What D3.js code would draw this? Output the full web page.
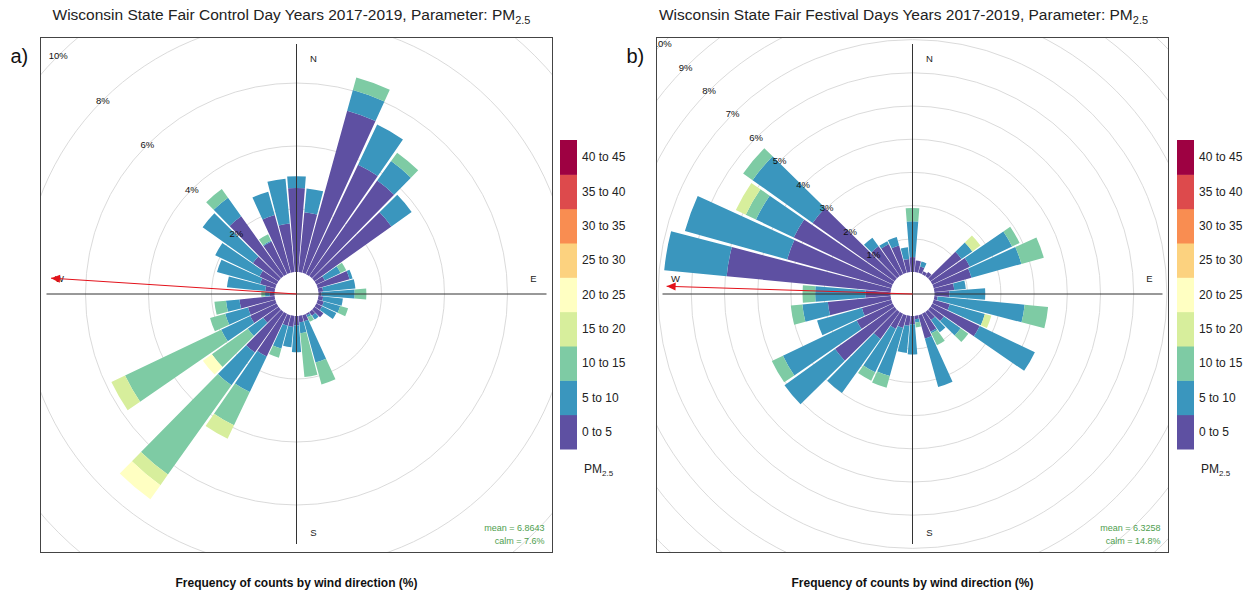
<!DOCTYPE html>
<html>
<head>
<meta charset="utf-8">
<script src="https://cdn.jsdelivr.net/npm/d3@7"></script>
<style>
  body { margin: 0; background: #fff; }
  svg { display: block; font-family: "Liberation Sans", Arial, sans-serif; }
</style>
</head>
<body>
<svg id="chart" width="1254" height="596"></svg>
<script>
// ---- data -------------------------------------------------------------
const directions = d3.range(0, 360, 10);   // wind sectors, degrees from north

const bandLabels = ["0 to 5", "5 to 10", "10 to 15", "15 to 20", "20 to 25",
                    "25 to 30", "30 to 35", "35 to 40", "40 to 45"];
const bandColors = ["#5E50A2", "#3A96BE", "#7ECBA4", "#D7EE9C", "#FFFFC2",
                    "#FCD27F", "#F98D51", "#DD4A4C", "#9E0142"];

// frequency (%) per PM2.5 band for each wind sector, control days
const controlFreq = [
  [2.67, 0.37], [1.91, 0.76], [5.34, 0.68, 0.41], [3.85, 1.41],
  [3.72, 0.76, 0.33], [3.00, 0.79], [0.30, 0.55, 0.20], [1.05, 0.10],
  [0.15, 1.03], [0.10, 1.05, 0.37], [0.15, 0.63], [0.20, 0.54, 0.26],
  [0.20, 0.50], [0.35], [0.15, 0.15], [0.05, 0.07, 0.16],
  [0.20, 1.36, 0.72], [0.20, 0.35, 1.40], [0.30, 0.85], [0.35, 0.65],
  [0.35, 0.75, 0.30], [1.50, 1.25, 1.17, 0.47], [1.58, 1.28, 3.48, 0.41, 0.55],
  [0.60, 0.60, 1.40, 0, 0.35], [0.93, 1.02, 3.38, 0.48], [0.90, 0.75, 0.50],
  [1.12, 0.43, 0.37], [0.15, 0.15, 0.12], [0.30, 1.22], [0.50, 1.42],
  [0.60, 1.56], [1.00, 1.96], [2.33, 0.72, 0.34], [1.15, 0.03, 0.22],
  [1.90, 0.77], [1.55, 1.43]
];

// frequency (%) per PM2.5 band for each wind sector, festival days
const festivalFreq = [
  [0.45, 1.08, 0.40], [0.35], [0.20, 0.15], [0.10],
  [0.15], [1.15, 0.40, 0, 0.30], [1.25, 1.41, 0.25], [1.18, 1.56, 0.70],
  [0.60, 0.35], [0.45, 1.08], [0.10, 2.63, 0.71], [0.50, 1.10, 0, 0.20],
  [1.58, 1.84], [0.50, 0.62, 0.28], [0.30, 0.45], [0.60, 0.05, 0.40],
  [0.73, 1.51], [0.10, 0.10, 0.15], [0.25, 0.91], [0.30, 0.82],
  [0.40, 1.50, 0.37], [0.50, 1.45, 0.28], [1.00, 2.00], [2.20, 1.87],
  [1.20, 2.46, 0.37], [0.92, 1.40], [1.90, 0.77, 0.35], [0.76, 1.51, 0.38],
  [4.96, 1.89], [3.25, 3.20], [3.30, 1.26, 0.34, 0.33], [3.03, 2.22, 0.35],
  [1.10, 0.32], [1.00, 0.10], [0.85, 0.27], [0.40, 0.35]
];

const controlTicks = [2, 4, 6, 8, 10];
const festivalTicks = [1, 2, 3, 4, 5, 6, 7, 8, 9, 10];

const titles = ["Wisconsin State Fair Control Day Years 2017-2019, Parameter: PM",
                "Wisconsin State Fair Festival Days Years 2017-2019, Parameter: PM"];
const panelTags = ["a)", "b)"];
const meanValues = ["6.8643", "6.3258"];
const calmValues = ["7.6%", "14.8%"];
const meanDirection = [273.7, 271.8];   // resultant wind direction, degrees
const compass = ["N", "E", "S", "W"];

// ---- layout -----------------------------------------------------------
const panels = [
  { freq: controlFreq,  ticks: controlTicks,  x0: 40.5,  pxPerPct: 31.5, legendX: 560,  titleDx: -5 },
  { freq: festivalFreq, ticks: festivalTicks, x0: 656.5, pxPerPct: 33.2, legendX: 1177, titleDx: -9 }
];
const frameY = 37.5, frameW = 512, frameH = 515;
const calmR = 22, halfWidth = 4.55 * Math.PI / 180;

const svg = d3.select("#chart");
const rad = d => d * Math.PI / 180;

panels.forEach((p, i) => {
  const cx = p.x0 + frameW / 2, cy = frameY + frameH / 2 - 1;
  const r = d3.scaleLinear().domain([0, 10]).range([calmR, calmR + 10 * p.pxPerPct]);

  // title with subscript
  const t = svg.append("text")
    .attr("x", cx + p.titleDx).attr("y", 20)
    .attr("text-anchor", "middle")
    .attr("font-size", 15.5).attr("fill", "#222");
  t.append("tspan").text(titles[i]);
  t.append("tspan").attr("font-size", 11).attr("dy", 4).text("2.5");

  svg.append("text").attr("x", p.x0 - 30).attr("y", 63)
    .attr("font-size", 20).attr("fill", "#111").text(panelTags[i]);

  const clipId = "clip" + i;
  svg.append("clipPath").attr("id", clipId)
    .append("rect").attr("x", p.x0).attr("y", frameY).attr("width", frameW).attr("height", frameH);

  const g = svg.append("g").attr("clip-path", `url(#${clipId})`);
  const c = g.append("g").attr("transform", `translate(${cx},${cy})`);

  // grid rings
  c.selectAll("circle.ring").data(p.ticks).join("circle")
    .attr("class", "ring").attr("r", d => r(d))
    .attr("fill", "none").attr("stroke", "#d6d6d6").attr("stroke-width", 0.9);

  // stacked sector bars
  const arc = d3.arc();
  directions.forEach((dir, k) => {
    const vals = p.freq[k];
    let cum = 0;
    vals.forEach((v, b) => {
      if (v <= 0) return;
      const inner = r(cum); cum += v; const outer = r(cum);
      c.append("path")
        .attr("d", arc({ innerRadius: inner, outerRadius: outer,
                         startAngle: rad(dir) - halfWidth, endAngle: rad(dir) + halfWidth }))
        .attr("fill", bandColors[b]);
    });
  });

  // ring labels along the north-west diagonal
  c.selectAll("text.tick").data(p.ticks).join("text")
    .attr("class", "tick")
    .attr("x", d => -r(d) * Math.SQRT1_2)
    .attr("y", d => -r(d) * Math.SQRT1_2)
    .attr("dy", "0.35em").attr("text-anchor", "middle")
    .attr("font-size", 9.5).attr("fill", "#111")
    .text(d => d + "%");

  // compass axes
  c.append("line").attr("x1", 0).attr("x2", 0).attr("y1", -250).attr("y2", 250)
    .attr("stroke", "#333").attr("stroke-width", 1);
  c.append("line").attr("y1", 0).attr("y2", 0).attr("x1", -250).attr("x2", 250)
    .attr("stroke", "#333").attr("stroke-width", 1);

  const labelPos = { N: [17, -235], E: [237, -15], S: [17, 239], W: [-237, -15] };
  compass.forEach(k => {
    c.append("text").attr("x", labelPos[k][0]).attr("y", labelPos[k][1])
      .attr("dy", "0.35em").attr("text-anchor", "middle")
      .attr("font-size", 9.5).attr("fill", "#222").text(k);
  });

  // mean wind direction arrow
  const len = 246, a = rad(meanDirection[i]);
  const tx = len * Math.sin(a), ty = -len * Math.cos(a);
  c.append("line").attr("x1", 0).attr("y1", 0).attr("x2", tx).attr("y2", ty)
    .attr("stroke", "#E3121B").attr("stroke-width", 1);
  const ux = Math.sin(a), uy = -Math.cos(a), hl = 9, hw = 4;
  c.append("path")
    .attr("d", `M${tx},${ty}L${tx - ux * hl - uy * hw},${ty - uy * hl + ux * hw}` +
               `L${tx - ux * hl + uy * hw},${ty - uy * hl - ux * hw}Z`)
    .attr("fill", "#E3121B");

  // summary text
  g.append("text").attr("x", p.x0 + frameW - 8).attr("y", frameY + frameH - 22)
    .attr("text-anchor", "end").attr("font-size", 9).attr("fill", "#4E9E4E")
    .text("mean = " + meanValues[i]);
  g.append("text").attr("x", p.x0 + frameW - 8).attr("y", frameY + frameH - 9)
    .attr("text-anchor", "end").attr("font-size", 9).attr("fill", "#4E9E4E")
    .text("calm = " + calmValues[i]);

  // frame
  svg.append("rect").attr("x", p.x0).attr("y", frameY).attr("width", frameW).attr("height", frameH)
    .attr("fill", "none").attr("stroke", "#444").attr("stroke-width", 1);

  // colour key
  const ky = d3.scaleBand().domain(bandLabels.slice().reverse()).range([140, 449]);
  const key = svg.append("g");
  key.selectAll("rect").data(bandLabels).join("rect")
    .attr("x", p.legendX).attr("y", d => ky(d))
    .attr("width", 17).attr("height", ky.bandwidth() + 0.5)
    .attr("fill", (d, b) => bandColors[b]);
  key.selectAll("text").data(bandLabels).join("text")
    .attr("x", p.legendX + 22).attr("y", d => ky(d) + ky.bandwidth() / 2)
    .attr("dy", "0.35em").attr("font-size", 12).attr("fill", "#222")
    .text(d => d);
  const kt = key.append("text").attr("x", p.legendX + 24).attr("y", 473)
    .attr("font-size", 12).attr("fill", "#222");
  kt.append("tspan").text("PM");
  kt.append("tspan").attr("font-size", 8).attr("dy", 3).text("2.5");

  // caption
  svg.append("text").attr("x", cx).attr("y", 587)
    .attr("text-anchor", "middle").attr("font-size", 12).attr("font-weight", "bold")
    .attr("fill", "#111").text("Frequency of counts by wind direction (%)");
});
</script>
</body>
</html>
